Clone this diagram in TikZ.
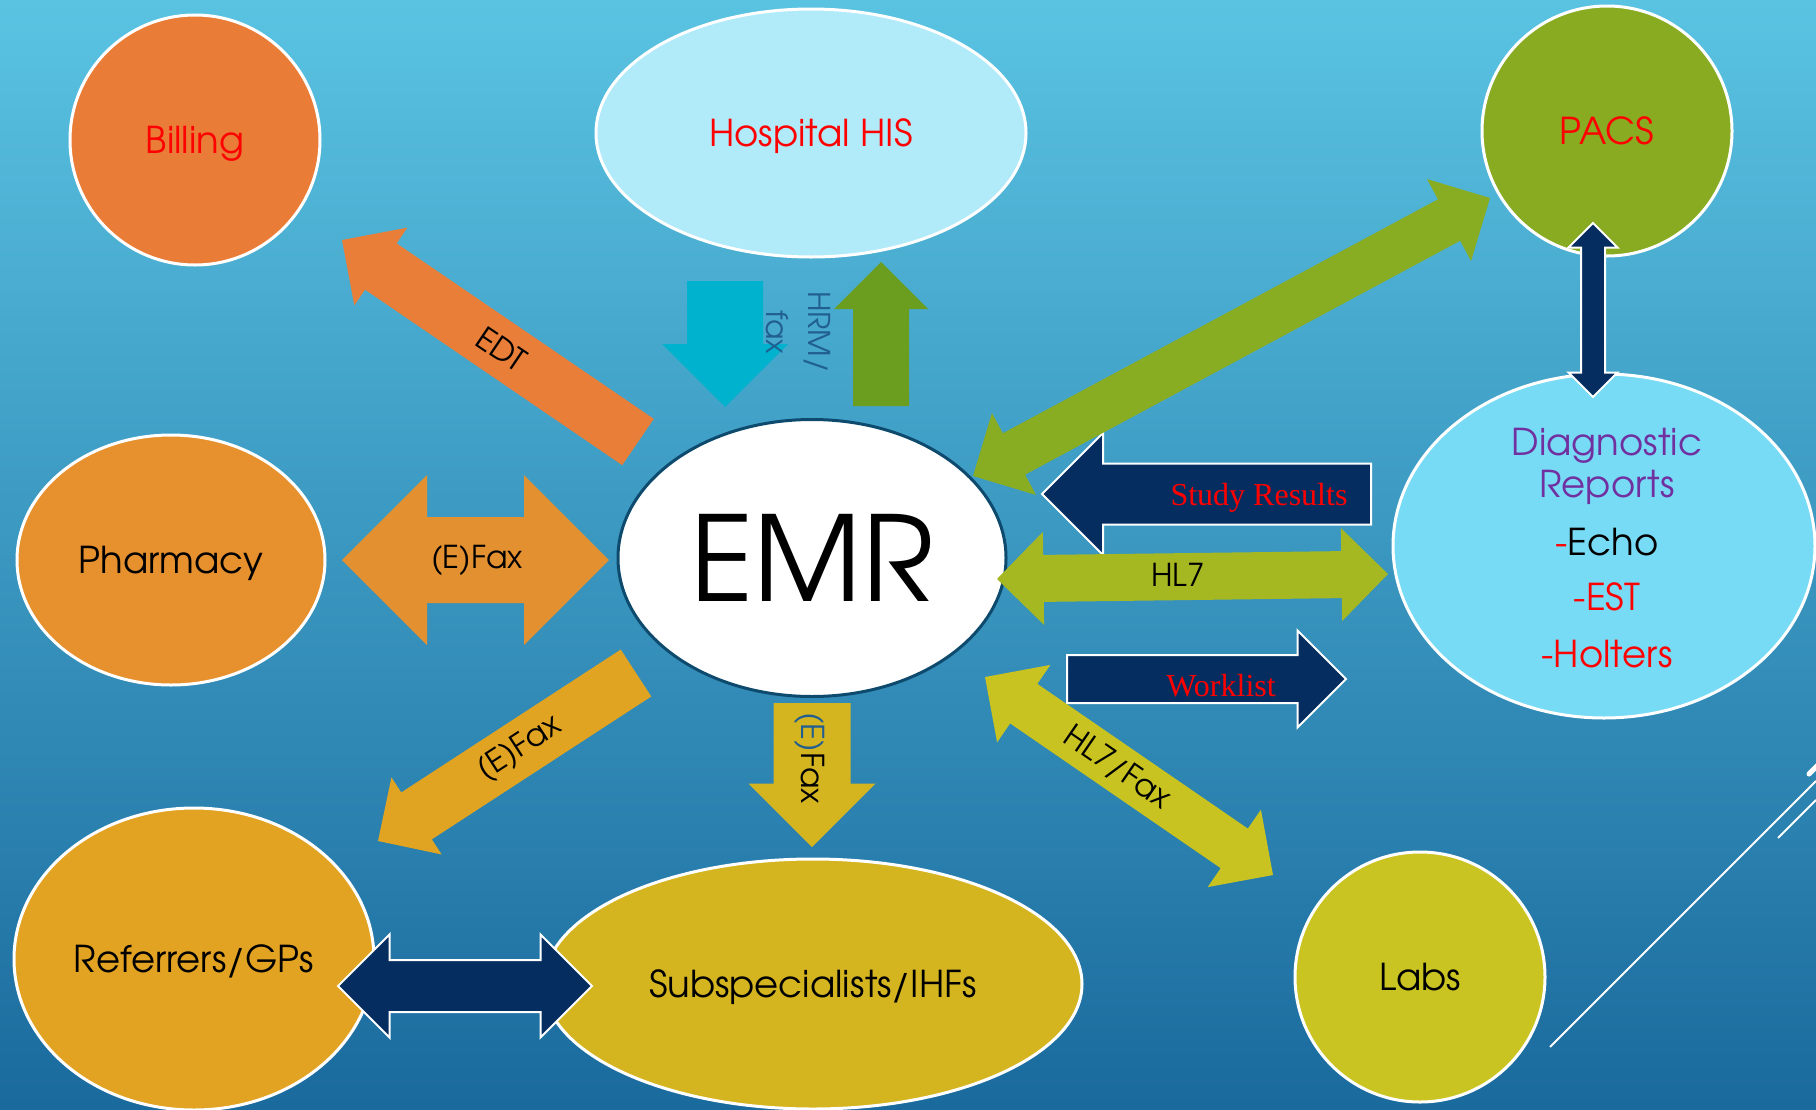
\documentclass[tikz,border=0pt]{standalone}
\usepackage{fontspec}
\setmainfont{texgyreadventor-regular.otf}
\newfontfamily\serifrm{Liberation Serif}
\usetikzlibrary{calc,shapes.geometric}
\definecolor{bgtop}{HTML}{5AC3E2}
\definecolor{bgmid}{HTML}{3A9CC7}
\definecolor{bgbot}{HTML}{1A6A9D}
\definecolor{cbill}{HTML}{E97D37}
\definecolor{chis}{HTML}{B1EAF9}
\definecolor{cpacs}{HTML}{89AB21}
\definecolor{cpharm}{HTML}{E6912E}
\definecolor{cdiag}{HTML}{78DBF5}
\definecolor{cref}{HTML}{E2A322}
\definecolor{csub}{HTML}{D4B520}
\definecolor{clabs}{HTML}{C9C421}
\definecolor{emrline}{HTML}{0D4A6E}
\definecolor{navy}{HTML}{062D5F}
\definecolor{cedt}{HTML}{E87E38}
\definecolor{cfaxa}{HTML}{E39030}
\definecolor{cfaxb}{HTML}{E0A422}
\definecolor{cfaxc}{HTML}{D4B41F}
\definecolor{ccyan}{HTML}{00B2CD}
\definecolor{cgreen}{HTML}{6B9E1F}
\definecolor{cpacsarr}{HTML}{88AC22}
\definecolor{chl}{HTML}{A5B822}
\definecolor{clabsarr}{HTML}{C8C320}
\definecolor{chrm}{HTML}{215F91}
\definecolor{cpurple}{HTML}{7030A0}
\tikzset{
  sys/.style = {draw=white, line width=3pt, inner sep=0pt, align=center,
    text depth=0pt, font=\fontsize{37}{44}\selectfont},
  sys_c/.style = {sys, circle, minimum size=250pt},% system, circle
  sys_e/.style = {sys, ellipse},% system, ellipse
  lbl/.style = {inner sep=0pt, font=\fontsize{31.5}{38}\selectfont},% arrow label
  lbl_tr/.style = {inner sep=0pt, text=red, text depth=0pt,
    font=\serifrm\fontsize{32}{36}\selectfont},% serif label, red
  navy_a/.style = {fill=navy, draw=white, line width=2pt}% navy block arrow
}
% block arrow: #1 tail, #2 tip, #3 half shaft, #4 half head, #5 style
\newcommand{\blockarrow}[5]{%
  \coordinate (hb) at ($(#2)!#4!(#1)$);
  \fill[#5] ($(#1)!#3!90:(#2)$) -- ($(hb)!#3!90:(#2)$) -- ($(hb)!#4!90:(#2)$)
    -- (#2) -- ($(hb)!#4!-90:(#2)$) -- ($(hb)!#3!-90:(#2)$)
    -- ($(#1)!#3!-90:(#2)$) -- cycle;
}
% same, with a head at both ends
\newcommand{\blockdarrow}[5]{%
  \coordinate (hb) at ($(#2)!#4!(#1)$);
  \coordinate (ha) at ($(#1)!#4!(#2)$);
  \fill[#5] (#1) -- ($(ha)!#4!90:(#2)$) -- ($(ha)!#3!90:(#2)$)
    -- ($(hb)!#3!90:(#2)$) -- ($(hb)!#4!90:(#2)$) -- (#2)
    -- ($(hb)!#4!-90:(#2)$) -- ($(hb)!#3!-90:(#2)$)
    -- ($(ha)!#3!-90:(#2)$) -- ($(ha)!#4!-90:(#2)$) -- cycle;
}
\begin{document}
\begin{tikzpicture}[x=1pt, y=-1pt]
\useasboundingbox (0,0) rectangle (1816,1109);
\shade[top color=bgtop, middle color=bgmid, bottom color=bgbot] (0,0) rectangle (1816,1109);
\draw[white, line width=2pt] (1550,1047) -- (1816,781);
\draw[white, line width=2pt] (1778,838) -- (1816,800);
\draw[white, line width=5pt, line cap=round] (1809,774) -- (1822,761);

% systems
\node[sys_c, fill=cbill, text=red] (bill) at (195,140) {Billing};
\node[sys_e, fill=chis, text=red, minimum width=430pt, minimum height=248pt] (his) at (811,133) {Hospital HIS};
\node[sys_c, fill=cpacs, text=red] (pacs) at (1607,131) {PACS};
\node[sys_e, fill=cpharm, minimum width=308pt, minimum height=250pt] (pharm) at (171,560) {Pharmacy};
\node[sys_e, fill=white, draw=emrline, minimum width=388pt, minimum height=277pt,
  font=\fontsize{118}{120}\selectfont] (emr) at (812,558) {EMR};
\node[sys_e, fill=cdiag, minimum width=422pt, minimum height=344pt] (diag) at (1604,546) {};
\node[align=center, inner sep=0pt, font=\fontsize{37}{42}\selectfont] (diagtxt) at (1607,548)
  {\textcolor{cpurple}{Diagnostic}\\ \textcolor{cpurple}{Reports}\\[16pt]
   \textcolor{red}{-}Echo\\[13pt] \textcolor{red}{-EST}\\[15pt] \textcolor{red}{-Holters}};
\node[sys_e, fill=cref, minimum width=360pt, minimum height=302pt] (ref) at (194,959) {Referrers/GPs};
\node[sys_e, fill=csub, minimum width=538pt, minimum height=250pt] (sub) at (813,984) {Subspecialists/IHFs};
\node[sys_c, fill=clabs] (labs) at (1420,977) {Labs};

% arrow ends
\coordinate (edt_s) at (638,442);   \coordinate (edt_t) at (342,240);
\coordinate (ph_a) at (342,560);    \coordinate (ph_b) at (609,560);
\coordinate (rf_s) at (636,673);    \coordinate (rf_t) at (378,841);
\coordinate (sb_s) at (812,703);    \coordinate (sb_t) at (812,847);
\coordinate (hdn_s) at (725,281);   \coordinate (hdn_t) at (725,407);
\coordinate (hup_s) at (881,406);   \coordinate (hup_t) at (881,262);
\coordinate (pc_a) at (973,476);    \coordinate (pc_b) at (1490,198);
\coordinate (pd_a) at (1593,223);   \coordinate (pd_b) at (1593,397);
\coordinate (sr_s) at (1371,494);   \coordinate (sr_t) at (1042,494);
\coordinate (hl_a) at (997,579);    \coordinate (hl_b) at (1388,574);
\coordinate (wl_s) at (1067,679);   \coordinate (wl_t) at (1346,679);
\coordinate (lb_a) at (985,677);    \coordinate (lb_b) at (1273,875);
\coordinate (rs_a) at (338,986);    \coordinate (rs_b) at (592,986);

% block arrows
\blockarrow{edt_s}{edt_t}{28pt}{47pt}{fill=cedt}
\blockdarrow{ph_a}{ph_b}{43pt}{85pt}{fill=cfaxa}
\blockarrow{rf_s}{rf_t}{28pt}{46pt}{fill=cfaxb}
\blockarrow{sb_s}{sb_t}{38.5pt}{63.5pt}{fill=cfaxc}
\blockarrow{hdn_s}{hdn_t}{38pt}{63pt}{fill=ccyan}
\blockarrow{hup_s}{hup_t}{28pt}{47pt}{fill=cgreen}
\blockarrow{sr_s}{sr_t}{30.5pt}{61pt}{navy_a}
\blockdarrow{pc_a}{pc_b}{23.5pt}{46.5pt}{fill=cpacsarr}
\blockdarrow{pd_a}{pd_b}{12pt}{24.5pt}{navy_a}
\blockdarrow{hl_a}{hl_b}{23.5pt}{46.5pt}{fill=chl}
\blockarrow{wl_s}{wl_t}{24pt}{48.5pt}{navy_a}
\blockdarrow{lb_a}{lb_b}{24pt}{47pt}{fill=clabsarr}
\blockdarrow{rs_a}{rs_b}{26pt}{51.5pt}{navy_a}

% labels
\node[lbl, rotate=-34] (edt) at ($(edt_s)!0.46!(edt_t)$) {EDT};
\node[lbl] (phfax) at (477,560) {(E)Fax};
\node[lbl, rotate=33] (rffax) at ($(rf_s)!0.45!(rf_t)$) {(E)Fax};
\node[lbl, rotate=-90] (sbfax) at (810,758) {\textcolor{chrm}{(E)}Fax};
\node[lbl, text=chrm, rotate=-90, align=center, font=\fontsize{30}{42}\selectfont] (hrm) at (798,332) {HRM/\\fax};
\node[lbl_tr] (study) at (1259,494) {Study Results};
\node[lbl] (hl) at (1178,575) {HL7};
\node[lbl_tr] (work) at (1221,685) {Worklist};
\node[lbl, rotate=-34.5] (lbfax) at (1117,768) {HL7/Fax};
\end{tikzpicture}
\end{document}
